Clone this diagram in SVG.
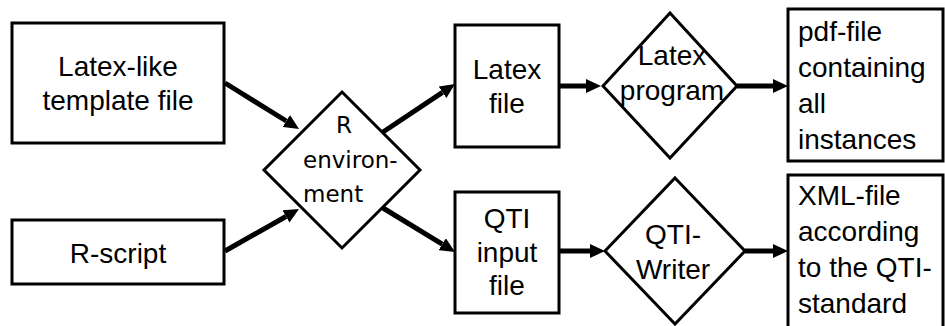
<svg xmlns="http://www.w3.org/2000/svg" width="945" height="326" viewBox="0 0 945 326">
  <style>
    .box { fill: #ffffff; stroke: #000000; stroke-width: 3; }
    .lbl { font-family: "Liberation Sans", Arial, sans-serif; font-size: 28px; fill: #000000; }
    .mid { text-anchor: middle; }
    .env { font-family: "DejaVu Sans", Verdana, sans-serif; font-size: 23px; fill: #000000; }
    .flow { fill: none; stroke: #000000; stroke-width: 5; marker-end: url(#head); }
  </style>
  <defs>
    <marker id="head" viewBox="0 0 15 14" refX="0" refY="7" markerWidth="15" markerHeight="14" markerUnits="userSpaceOnUse" orient="auto">
      <path d="M0,0 L15,7 L0,14 Z" fill="#000000"/>
    </marker>
  </defs>
  <rect width="945" height="326" fill="#ffffff"/>

  <g id="connectors">
    <line class="flow" x1="225" y1="83" x2="286.3" y2="121"/>
    <line class="flow" x1="225" y1="251" x2="286" y2="216.5"/>
    <line class="flow" x1="383" y1="132" x2="442.5" y2="92.3"/>
    <line class="flow" x1="383" y1="208" x2="442.2" y2="244.2"/>
    <line class="flow" x1="559" y1="86" x2="586" y2="86"/>
    <line class="flow" x1="737" y1="86" x2="773" y2="86"/>
    <line class="flow" x1="559" y1="251" x2="590" y2="251"/>
    <line class="flow" x1="745" y1="251" x2="773" y2="251"/>
  </g>

  <g id="template">
    <rect class="box" x="12" y="23" width="212" height="120"/>
    <text class="lbl mid" x="118" y="76">Latex-like</text>
    <text class="lbl mid" x="118" y="110">template file</text>
  </g>

  <g id="rscript">
    <rect class="box" x="12" y="220" width="212" height="64"/>
    <text class="lbl mid" x="118" y="263">R-script</text>
  </g>

  <g id="renv">
    <polygon class="box" points="342,92 420,170 342,248 264,170"/>
    <text class="env" x="336" y="133">R</text>
    <text class="env" x="303" y="168">environ-</text>
    <text class="env" x="303" y="202">ment</text>
  </g>

  <g id="latexfile">
    <rect class="box" x="455" y="25" width="104" height="122"/>
    <text class="lbl mid" x="507" y="79">Latex</text>
    <text class="lbl mid" x="507" y="113">file</text>
  </g>

  <g id="qtiinput">
    <rect class="box" x="455" y="192" width="104" height="121"/>
    <text class="lbl mid" x="507" y="228">QTI</text>
    <text class="lbl mid" x="507" y="262">input</text>
    <text class="lbl mid" x="507" y="295">file</text>
  </g>

  <g id="latexprog">
    <polygon class="box" points="670,13 737,86 670,158 603,86"/>
    <text class="lbl mid" x="672" y="65">Latex</text>
    <text class="lbl mid" x="672" y="100">program</text>
  </g>

  <g id="qtiwriter">
    <polygon class="box" points="675,178 745,251 675,324 605,251"/>
    <text class="lbl mid" x="673" y="244">QTI-</text>
    <text class="lbl mid" x="673" y="279">Writer</text>
  </g>

  <g id="pdf">
    <rect class="box" x="788" y="9" width="155" height="152"/>
    <text class="lbl" x="798" y="41">pdf-file</text>
    <text class="lbl" x="798" y="77">containing</text>
    <text class="lbl" x="798" y="113">all</text>
    <text class="lbl" x="798" y="149">instances</text>
  </g>

  <!-- this box runs past the lower edge of the canvas -->
  <g id="xml">
    <rect class="box" x="788" y="175" width="155" height="160"/>
    <text class="lbl" x="798" y="205">XML-file</text>
    <text class="lbl" x="798" y="241">according</text>
    <text class="lbl" x="798" y="277">to the QTI-</text>
    <text class="lbl" x="798" y="313">standard</text>
  </g>
</svg>
